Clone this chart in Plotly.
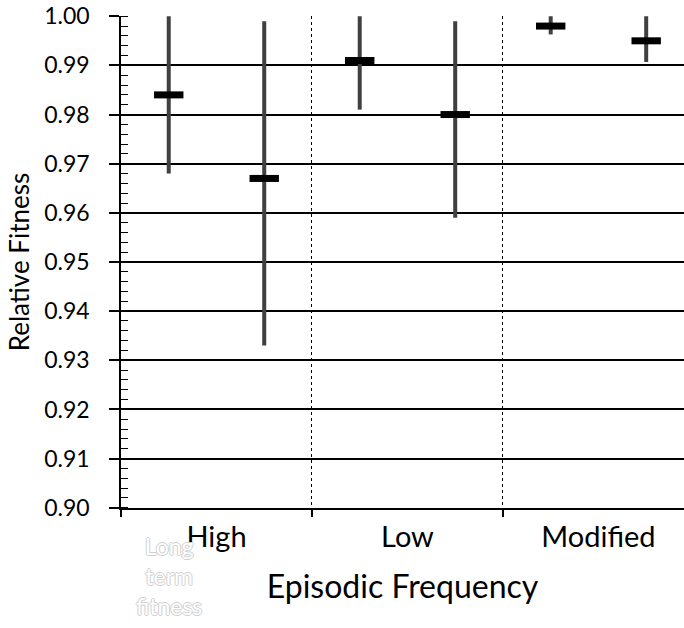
import plotly.graph_objects as go

# Episodic frequency groups and the two fitness estimates drawn in each group
groups = ["High", "Low", "Modified"]
offsets = [0.25, 0.75]

mean_first = [0.984, 0.991, 0.998]
low_first = [0.968, 0.981, 0.9963]
high_first = [1.000, 1.000, 1.000]

mean_second = [0.967, 0.980, 0.995]
low_second = [0.933, 0.959, 0.9907]
high_second = [0.999, 0.999, 1.000]

y_ticks = [0.90, 0.91, 0.92, 0.93, 0.94, 0.95, 0.96, 0.97, 0.98, 0.99, 1.00]

FONT = "Lato, Carlito, Calibri, sans-serif"

fig = go.Figure()


def add_series(mean, low, high, offset):
    xs = [i + offset for i in range(len(groups))]
    fig.add_trace(go.Scatter(
        x=xs, y=mean, mode="markers",
        marker=dict(symbol="line-ew", size=21, color="black",
                    line=dict(color="black", width=7)),
        error_y=dict(type="data", symmetric=False,
                     array=[h - m for h, m in zip(high, mean)],
                     arrayminus=[m - l for m, l in zip(mean, low)],
                     color="#404040", thickness=4, width=0),
        showlegend=False, hoverinfo="skip",
    ))


add_series(mean_first, low_first, high_first, offsets[0])
add_series(mean_second, low_second, high_second, offsets[1])

fig.update_layout(
    width=684, height=628,
    margin=dict(l=121, r=0, t=16, b=120),
    paper_bgcolor="white", plot_bgcolor="white",
    font=dict(family=FONT, color="black"),
    xaxis=dict(
        range=[0, 2.948],
        tickvals=[i + 0.5 for i in range(len(groups))],
        ticktext=groups, ticks="", showgrid=False, zeroline=False,
        tickfont=dict(size=29), ticklabelstandoff=2,
        showline=True, linecolor="black", linewidth=1.5,
        minor=dict(tick0=0, dtick=1, ticks="outside", ticklen=7,
                   tickwidth=1.5, tickcolor="black", showgrid=True,
                   gridcolor="black", gridwidth=1, griddash="dot"),
        title=dict(text="Episodic Frequency", font=dict(size=32), standoff=24),
    ),
    yaxis=dict(
        range=[0.89995, 1.00005],
        tickvals=y_ticks, tickformat=".2f",
        ticks="outside", ticklen=10, tickwidth=1.5, tickcolor="black",
        tickfont=dict(size=23), ticklabelstandoff=15,
        showgrid=True, gridcolor="black", gridwidth=1.5, zeroline=False,
        showline=True, linecolor="black", linewidth=1.5,
        minor=dict(dtick=0.002, ticks="inside", ticklen=7, tickwidth=1.2,
                   tickcolor="black", showgrid=False),
        title=dict(text="Relative Fitness", font=dict(size=26), standoff=7),
    ),
)

# Faint outlined series caption under the first group
fig.add_annotation(
    x=offsets[0], xref="x", y=-0.045, yref="paper", yanchor="top",
    text="Long<br>term<br>fitness", showarrow=False,
    font=dict(family=FONT, size=23, color="white",
              shadow="1px 0 0 #cfcfcf, -1px 0 0 #cfcfcf, 0 1px 0 #cfcfcf, 0 -1px 0 #cfcfcf"),
)

fig.write_html("out.html")
